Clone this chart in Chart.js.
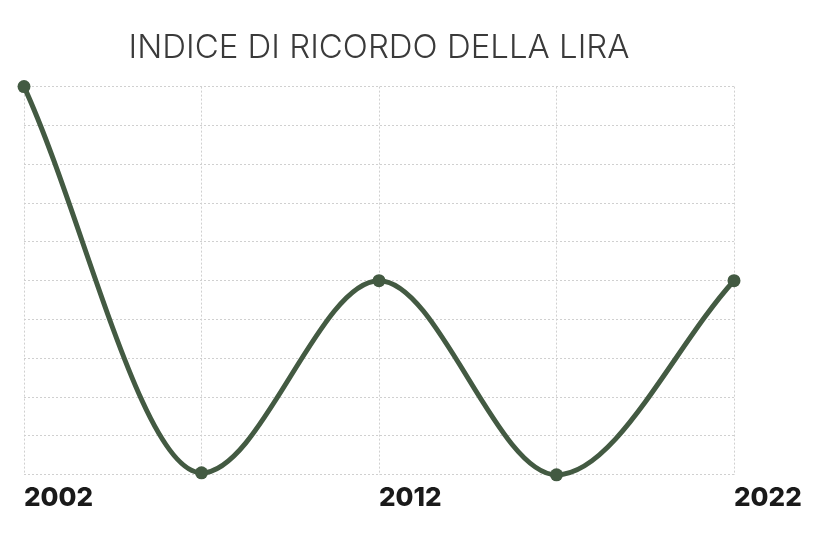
<!DOCTYPE html>
<html>
<head>
<meta charset="utf-8">
<script src="https://cdn.jsdelivr.net/npm/chart.js@4"></script>
<style>
  html, body { margin: 0; padding: 0; background: #ffffff; }
  #wrap { width: 818px; height: 539px; position: relative; }
</style>
</head>
<body>
<div id="wrap"><canvas id="c" width="818" height="539"></canvas></div>
<script>
const years = ['2002', '2007', '2012', '2017', '2022'];
const shownYears = ['2002', '2012', '2022'];
const memoryIndex = [10, 0.05, 5, 0, 5];
const chartTitle = 'INDICE DI RICORDO DELLA LIRA';

const lineColor = '#435a42';
const gridColor = '#d0d0d0';

new Chart(document.getElementById('c'), {
  type: 'line',
  data: {
    labels: years,
    datasets: [{
      data: memoryIndex,
      borderColor: lineColor,
      backgroundColor: lineColor,
      borderWidth: 5,
      pointRadius: 6.5,
      pointBorderWidth: 0,
      pointBackgroundColor: lineColor,
      cubicInterpolationMode: 'monotone',
      clip: false
    }]
  },
  options: {
    responsive: false,
    animation: false,
    layout: { padding: { left: 24, right: 84, top: 0, bottom: 17 } },
    plugins: {
      legend: { display: false },
      tooltip: { enabled: false },
      title: {
        display: true,
        text: chartTitle,
        fullSize: false,
        color: '#3a3a3a',
        font: { family: 'Inter', size: 33, weight: '300' },
        padding: { top: 28, bottom: 19 }
      }
    },
    scales: {
      x: {
        grid: { color: gridColor, lineWidth: 1, tickLength: 0, drawTicks: false },
        border: { display: false, dash: [2, 2] },
        ticks: {
          align: 'start',
          padding: 8,
          color: '#1a1a1a',
          font: { family: 'Inter', size: 26, weight: '800' },
          autoSkip: false,
          maxRotation: 0,
          callback: function (v, i) {
            const lab = this.getLabelForValue(v);
            return shownYears.includes(lab) ? lab : '';
          }
        }
      },
      y: {
        min: 0,
        max: 10,
        grid: { color: gridColor, lineWidth: 1, drawTicks: false },
        border: { display: false, dash: [2, 2] },
        ticks: { display: false, stepSize: 1 }
      }
    }
  }
});
</script>
</body>
</html>
